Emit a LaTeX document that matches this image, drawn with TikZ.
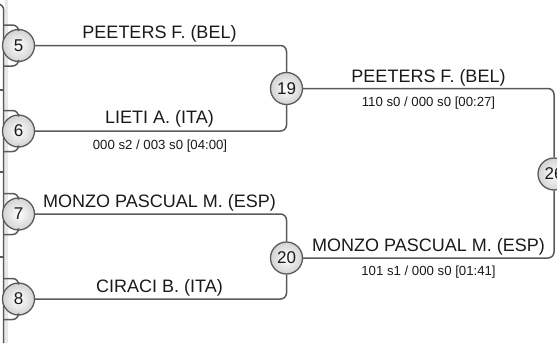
\documentclass[tikz,border=0pt]{standalone}
\usepackage{fontspec}
\setmainfont{Liberation Sans}
\definecolor{lg}{HTML}{5A5A5A}
\definecolor{txt}{HTML}{1A1A1A}
\begin{document}
\begin{tikzpicture}[x=1pt,y=-1pt,
  ln/.style={draw=lg, line width=1.5pt, rounded corners=6pt},
  seed/.style={circle, draw=lg, line width=1.3pt, minimum size=32pt, inner sep=0pt,
    inner color=white, outer color=gray!35, text=txt, font=\fontsize{17}{17}\selectfont},
  pname/.style={anchor=base, inner sep=0pt, text=txt, font=\fontsize{18}{19}\selectfont},
  score/.style={anchor=base, inner sep=0pt, text=txt, font=\fontsize{13.2}{14}\selectfont}]
\useasboundingbox (0,0) rectangle (557,343);
% left strip of the previous round
\fill[gray!18] (4.7,0) rectangle (8,343);
\coordinate (tl) at (0,4);
\coordinate (bl) at (3.7,343);
\draw[ln] (tl) -| (bl);
\foreach \yy in {90,172,257}{
  \coordinate (t\yy) at (0,\yy);
  \coordinate (u\yy) at (3.7,\yy);
  \draw[ln, rounded corners=0pt] (t\yy) -- (u\yy);
}
% seeds
\node[seed] (c5) at (18.5,45.5) {5};
\node[seed] (c6) at (18.5,131) {6};
\node[seed] (c7) at (18.5,214) {7};
\node[seed] (c8) at (18.5,299) {8};
\node[seed] (c19) at (286.5,88.5) {19};
\node[seed] (c20) at (286.5,258) {20};
\node[seed] (c26) at (554,174) {26};
% short arms into the first-round circles
\foreach \n/\yy in {5/45.5,6/131,7/214,8/299}{
  \coordinate (a\n) at (3.7,\yy-20.5);
  \coordinate (b\n) at (3.7,\yy+20.5);
  \draw[ln] (a\n) -| (c\n.north);
  \draw[ln] (b\n) -| (c\n.south);
}
% bracket lines
\draw[ln] (c5.east) -| (c19.north);
\draw[ln] (c6.east) -| (c19.south);
\draw[ln] (c7.east) -| (c20.north);
\draw[ln] (c8.east) -| (c20.south);
\draw[ln] (c19.east) -| (c26.north);
\draw[ln] (c20.east) -| (c26.south);
% names and scores
\node[pname] (n5) at (159.5,38) {PEETERS F. (BEL)};
\node[pname] (n6) at (159.5,123) {LIETI A. (ITA)};
\node[score] (s6) at (160,149) {000 s2 / 003 s0 [04:00]};
\node[pname] (n7) at (159.5,207) {MONZO PASCUAL M. (ESP)};
\node[pname] (n8) at (159.5,292) {CIRACI B. (ITA)};
\node[pname] (n19) at (428.5,82) {PEETERS F. (BEL)};
\node[score] (s19) at (428.5,106) {110 s0 / 000 s0 [00:27]};
\node[pname] (n20) at (428.5,251) {MONZO PASCUAL M. (ESP)};
\node[score] (s20) at (428.5,275) {101 s1 / 000 s0 [01:41]};
\end{tikzpicture}
\end{document}
